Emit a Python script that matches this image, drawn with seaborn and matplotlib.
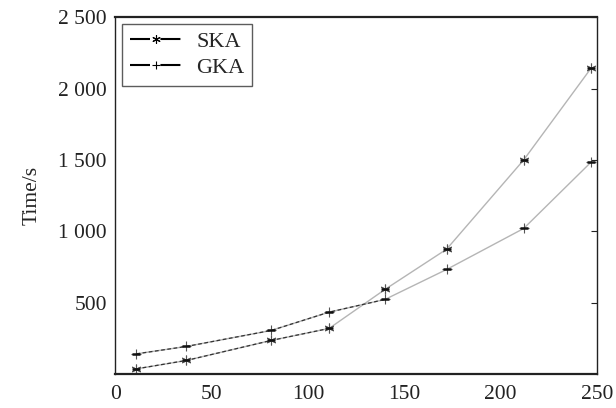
import matplotlib
matplotlib.use("Agg")
import matplotlib.pyplot as plt
from matplotlib.ticker import FuncFormatter
from matplotlib.lines import Line2D
import seaborn as sns
import pandas as pd

x_ska = [11, 37, 81, 111, 140, 172, 212, 247]
y_ska = [37, 96, 236, 320, 593, 875, 1500, 2143]
x_gka = [11, 37, 81, 111, 140, 172, 212, 247]
y_gka = [142, 194, 306, 434, 523, 733, 1020, 1485]
series = ["SKA", "GKA"]
x_ticks = [0, 50, 100, 150, 200, 250]
y_ticks = [500, 1000, 1500, 2000, 2500]

df = pd.DataFrame({
    "x": x_ska + x_gka,
    "y": y_ska + y_gka,
    "alg": [series[0]] * len(x_ska) + [series[1]] * len(x_gka),
})

sns.set_style("white")
plt.rcParams["font.family"] = ["Liberation Serif", "DejaVu Serif"]

fig = plt.figure(figsize=(6.16, 4.08), dpi=100)
ax = fig.add_axes([0.187, 0.083, 0.782, 0.875])

sns.lineplot(data=df, x="x", y="y", hue="alg", style="alg",
             markers={"SKA": (6, 2, 0), "GKA": "+"}, dashes=False,
             palette={"SKA": "#b5b5b5", "GKA": "#b5b5b5"},
             markersize=7, markeredgecolor="#555555", markeredgewidth=0.8,
             linewidth=1.0, ax=ax, legend=False)
# dark dashed overlay on the lower segments
sub_s = df[(df.alg == "SKA") & (df.x <= 111)]
sub_g = df[(df.alg == "GKA") & (df.x <= 140)]
ax.plot(sub_s.x, sub_s.y, color="#333333", lw=0.9, ls=(0, (3, 2)))
ax.plot(sub_g.x, sub_g.y, color="#333333", lw=0.9, ls=(0, (3, 2)))
# short black bars at markers
ax.plot(df.x, df.y, ls="none", marker="_", markersize=6, mew=1.8, color="#111111")

ax.set_xlim(0, 250)
ax.set_ylim(0, 2500)
ax.set_xticks(x_ticks)
ax.set_yticks(y_ticks)
fmt = FuncFormatter(lambda v, p: f"{int(v):,}".replace(",", " "))
ax.yaxis.set_major_formatter(fmt)
ax.tick_params(direction="in", length=4, width=0.8, colors="#222222",
               labelsize=15.5, top=False, right=True, pad=6)
ax.tick_params(axis="x", pad=8)
for s in ax.spines.values():
    s.set_color("#222222")
    s.set_linewidth(1.0)
ax.spines["top"].set_linewidth(1.6)
ax.spines["bottom"].set_linewidth(1.6)
ax.set_xlabel("")
ax.set_ylabel("Time/s", fontsize=15.5, labelpad=12)

handles = [Line2D([], [], color="black", lw=1.5, ls=(0, (9.6, 5)),
                  marker=(6, 2, 0), markersize=6, mew=0.8),
           Line2D([], [], color="black", lw=1.5, ls=(0, (9.6, 5)),
                  marker="+", markersize=6, mew=0.8)]
leg = ax.legend(handles, series, loc="upper left", fontsize=16, frameon=True,
                fancybox=False, edgecolor="#333333", handlelength=2.4,
                borderaxespad=0.3, labelspacing=0.25, borderpad=0.35, handletextpad=0.6)
leg.get_frame().set_linewidth(1.0)

fig.savefig("out.png", dpi=100)
